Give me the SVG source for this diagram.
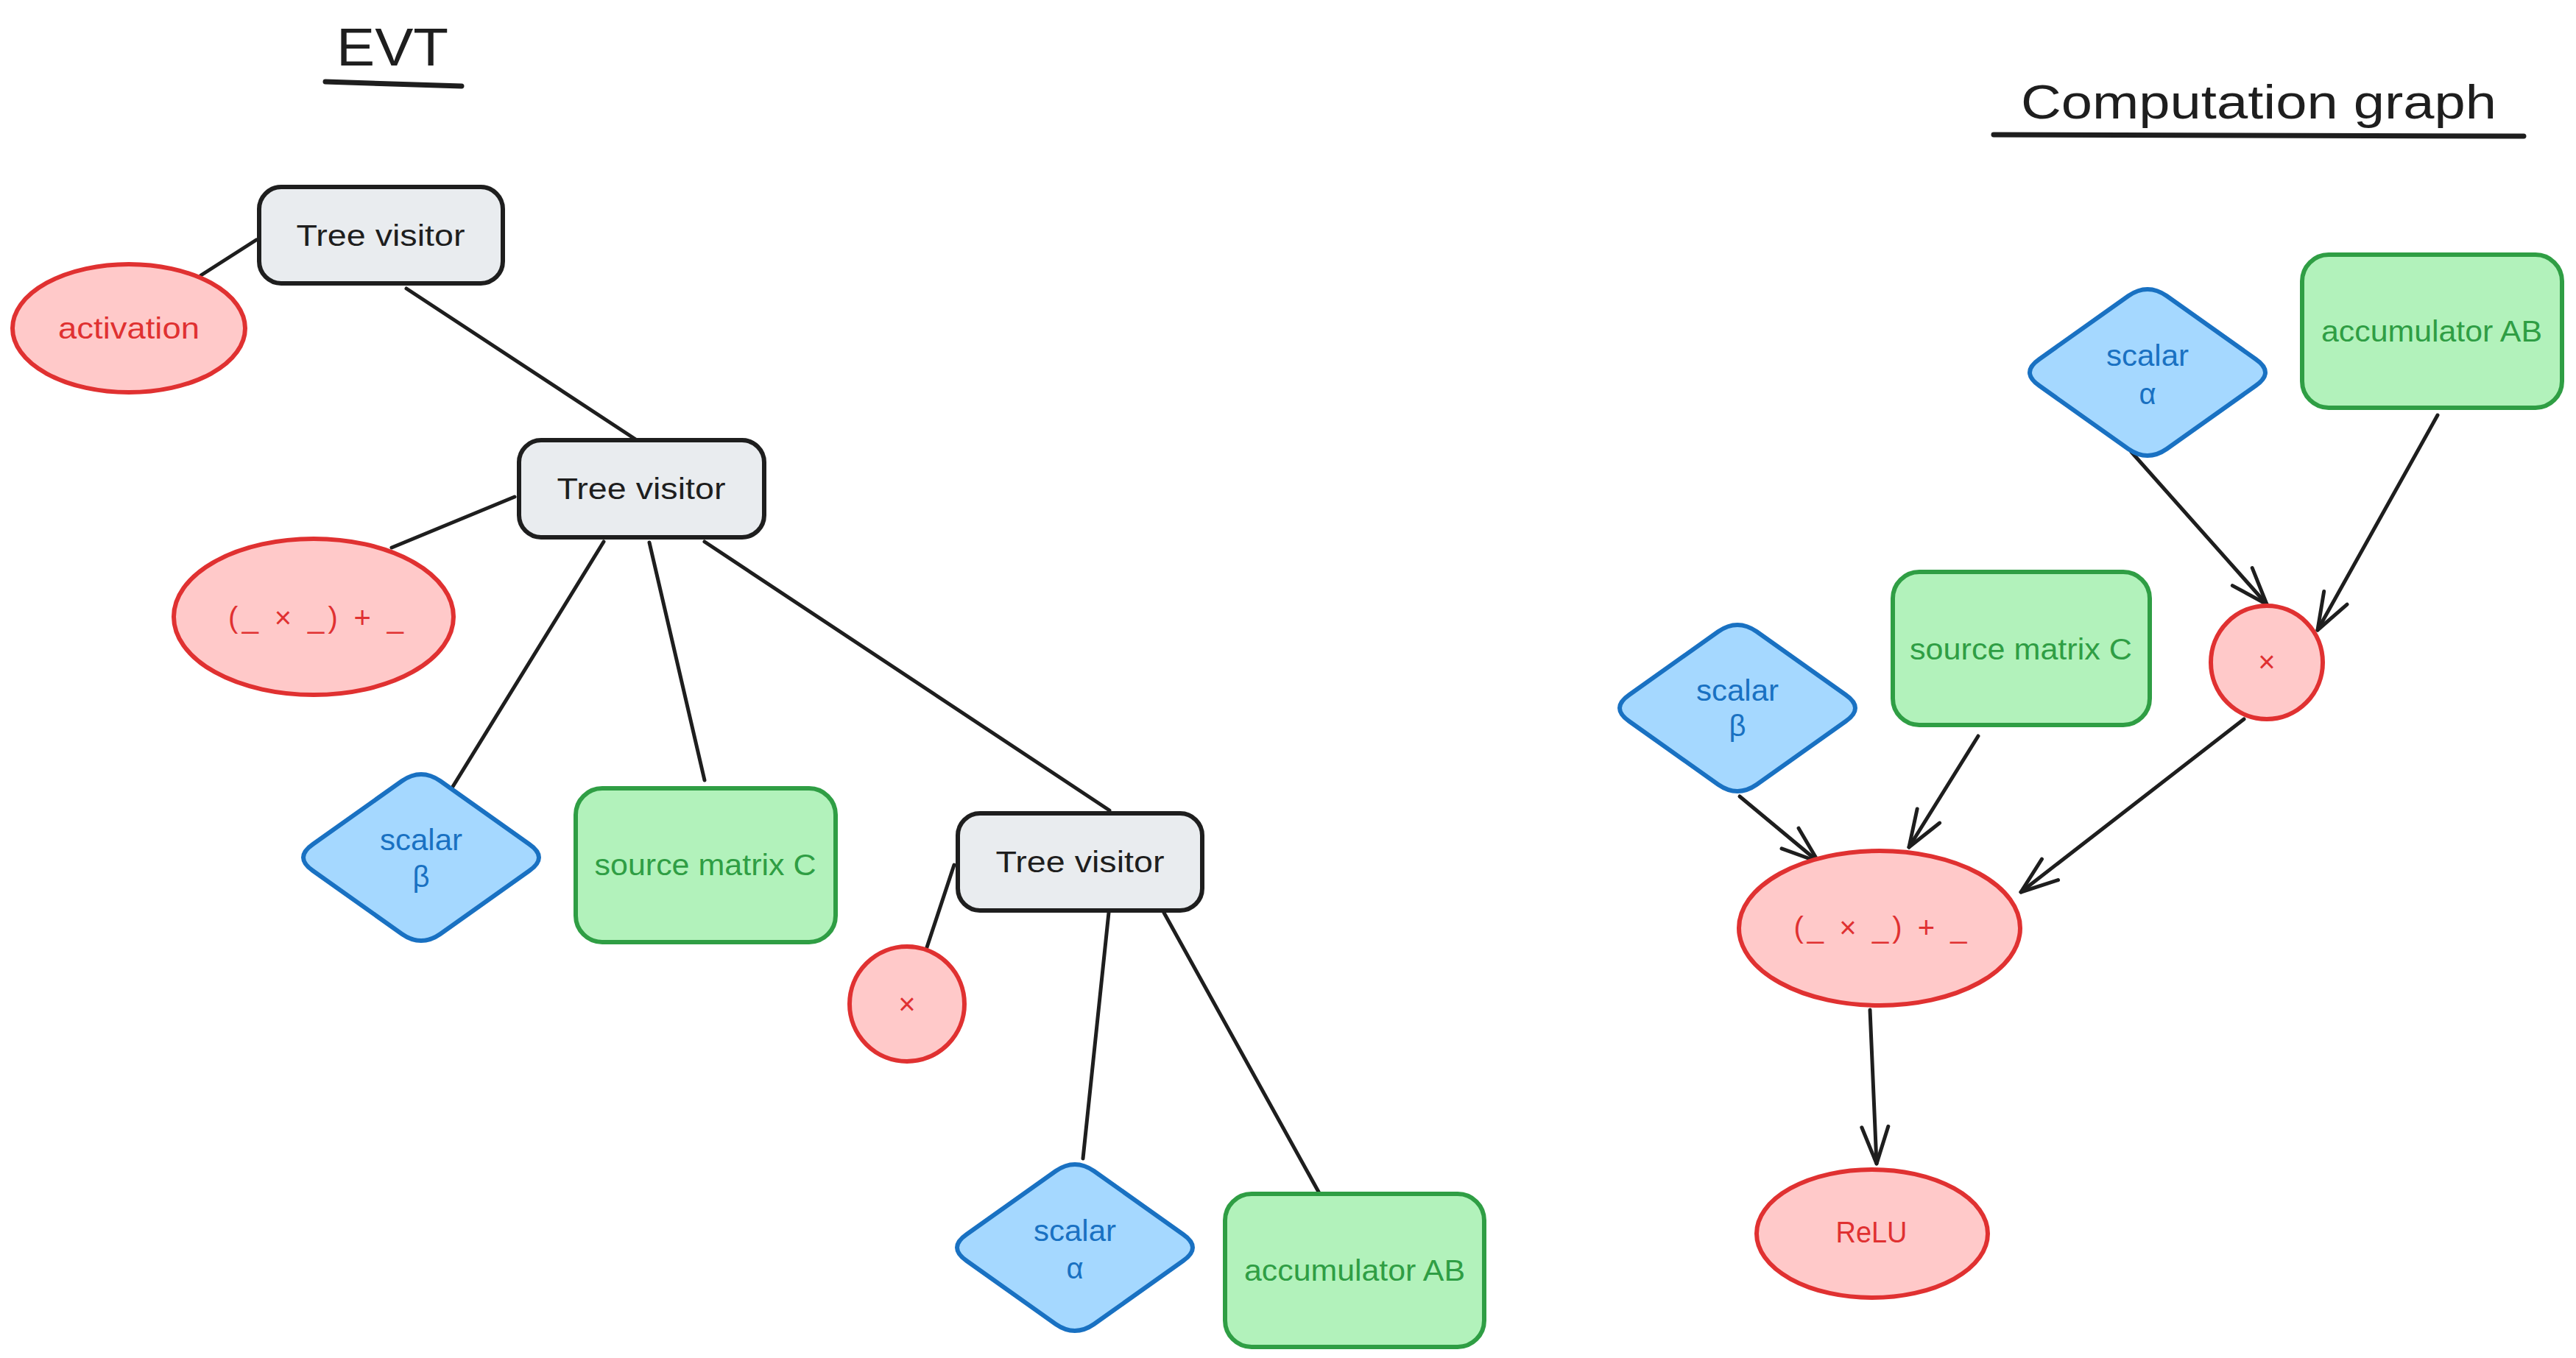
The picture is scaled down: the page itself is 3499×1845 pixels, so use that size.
<svg xmlns="http://www.w3.org/2000/svg" width="3499" height="1845" viewBox="0 0 3499 1845">
<style>
  text { font-family: "Liberation Sans", Arial, sans-serif; text-anchor: middle; dominant-baseline: central; }
  .lbl { font-size: 40px; }
  .title { font-size: 72px; fill: #1e1e1e; dominant-baseline: alphabetic; }
  .tv rect { fill: #e9ecef; stroke: #1e1e1e; stroke-width: 6; }
  .tv text { fill: #1e1e1e; }
  .red ellipse { fill: #ffc9c9; stroke: #e03131; stroke-width: 6; }
  .red text { fill: #e03131; }
  .blue use { fill: #a5d8ff; stroke: #1971c2; stroke-width: 6; stroke-linejoin: round; }
  .blue text { fill: #1971c2; }
  .green rect { fill: #b2f2bb; stroke: #2f9e44; stroke-width: 6; }
  .green text { fill: #2f9e44; }
  #connectors line { stroke: #1e1e1e; stroke-width: 5; stroke-linecap: round; fill: none; }
  #connectors .arrow { marker-end: url(#arr); }
  .uline { stroke: #1e1e1e; stroke-width: 7; stroke-linecap: round; }
</style>
<defs>
  <path id="dia" d="M -26,-104 Q 0,-122 26,-104 L 147,-18 Q 173,0 147,18 L 26,104 Q 0,122 -26,104 L -147,18 Q -173,0 -147,-18 Z"/>
  <marker id="arr" markerUnits="userSpaceOnUse" markerWidth="60" markerHeight="50" viewBox="0 0 60 50" refX="54" refY="25" orient="auto">
    <path d="M4,7 L54,25 L4,43" fill="none" stroke="#1e1e1e" stroke-width="5" stroke-linecap="round" stroke-linejoin="round"/>
  </marker>
</defs>
<rect x="0" y="0" width="3499" height="1845" fill="#ffffff"/>

<g id="title-evt">
  <text class="title" x="533" y="89" textLength="152" lengthAdjust="spacingAndGlyphs">EVT</text>
  <line class="uline" x1="442" y1="111" x2="627" y2="117"/>
</g>
<g id="title-cg">
  <text class="title" x="3068" y="161" style="font-size:64px" textLength="646" lengthAdjust="spacingAndGlyphs">Computation graph</text>
  <line class="uline" x1="2708" y1="183" x2="3428" y2="185"/>
</g>

<g id="connectors">
  <line x1="273" y1="374" x2="348" y2="326"/>
  <line x1="552" y1="392" x2="865" y2="598"/>
  <line x1="532" y1="744" x2="699" y2="675"/>
  <line x1="820" y1="736" x2="613" y2="1072"/>
  <line x1="882" y1="737" x2="957" y2="1060"/>
  <line x1="957" y1="736" x2="1507" y2="1101"/>
  <line x1="1296" y1="1175" x2="1258" y2="1290"/>
  <line x1="1506" y1="1240" x2="1471" y2="1574"/>
  <line x1="1581" y1="1240" x2="1792" y2="1621"/>
  <line class="arrow" x1="2895" y1="614" x2="3079" y2="821"/>
  <line class="arrow" x1="3311" y1="564" x2="3148" y2="856"/>
  <line class="arrow" x1="2363" y1="1082" x2="2470" y2="1171"/>
  <line class="arrow" x1="2687" y1="1000" x2="2593" y2="1151"/>
  <line class="arrow" x1="3048" y1="977" x2="2745" y2="1212"/>
  <line class="arrow" x1="2540" y1="1372" x2="2549" y2="1581"/>
</g>

<!-- EVT side -->
<g id="tv1" class="tv">
  <rect x="352" y="254" width="331" height="131" rx="30"/>
  <text class="lbl" x="517" y="320" textLength="229" lengthAdjust="spacingAndGlyphs">Tree visitor</text>
</g>
<g id="activation" class="red">
  <ellipse cx="175" cy="446" rx="158" ry="87"/>
  <text class="lbl" x="175" y="446" textLength="192" lengthAdjust="spacingAndGlyphs">activation</text>
</g>
<g id="tv2" class="tv">
  <rect x="705" y="598" width="333" height="132" rx="30"/>
  <text class="lbl" x="871" y="664" textLength="229" lengthAdjust="spacingAndGlyphs">Tree visitor</text>
</g>
<g id="evt-muladd" class="red">
  <ellipse cx="426" cy="838" rx="190" ry="106"/>
  <text class="lbl" x="429" y="839" textLength="238" lengthAdjust="spacing">(_ × _) + _</text>
</g>
<g id="evt-beta" class="blue">
  <use href="#dia" x="572" y="1165"/>
  <text class="lbl" x="572" y="1141" textLength="112" lengthAdjust="spacingAndGlyphs">scalar</text>
  <text class="lbl" x="572" y="1191">β</text>
</g>
<g id="evt-srcC" class="green">
  <rect x="782" y="1071" width="353" height="209" rx="36"/>
  <text class="lbl" x="958" y="1175" textLength="301" lengthAdjust="spacingAndGlyphs">source matrix C</text>
</g>
<g id="tv3" class="tv">
  <rect x="1301" y="1105" width="332" height="132" rx="30"/>
  <text class="lbl" x="1467" y="1171" textLength="229" lengthAdjust="spacingAndGlyphs">Tree visitor</text>
</g>
<g id="evt-mul" class="red">
  <ellipse cx="1232" cy="1364" rx="78" ry="78"/>
  <text class="lbl" x="1232" y="1364">×</text>
</g>
<g id="evt-alpha" class="blue">
  <use href="#dia" x="1460" y="1695"/>
  <text class="lbl" x="1460" y="1672" textLength="112" lengthAdjust="spacingAndGlyphs">scalar</text>
  <text class="lbl" x="1460" y="1723">α</text>
</g>
<g id="evt-acc" class="green">
  <rect x="1664" y="1622" width="352" height="208" rx="36"/>
  <text class="lbl" x="1840" y="1726" textLength="300" lengthAdjust="spacingAndGlyphs">accumulator AB</text>
</g>

<!-- Computation graph side -->
<g id="cg-alpha" class="blue">
  <use href="#dia" x="2917" y="506"/>
  <text class="lbl" x="2917" y="483" textLength="112" lengthAdjust="spacingAndGlyphs">scalar</text>
  <text class="lbl" x="2917" y="535">α</text>
</g>
<g id="cg-acc" class="green">
  <rect x="3127" y="346" width="353" height="208" rx="36"/>
  <text class="lbl" x="3303" y="450" textLength="300" lengthAdjust="spacingAndGlyphs">accumulator AB</text>
</g>
<g id="cg-mul" class="red">
  <ellipse cx="3079" cy="900" rx="76" ry="77"/>
  <text class="lbl" x="3079" y="899">×</text>
</g>
<g id="cg-srcC" class="green">
  <rect x="2571" y="777" width="349" height="208" rx="36"/>
  <text class="lbl" x="2745" y="882" textLength="302" lengthAdjust="spacingAndGlyphs">source matrix C</text>
</g>
<g id="cg-beta" class="blue">
  <use href="#dia" x="2360" y="962"/>
  <text class="lbl" x="2360" y="938" textLength="112" lengthAdjust="spacingAndGlyphs">scalar</text>
  <text class="lbl" x="2360" y="986">β</text>
</g>
<g id="cg-muladd" class="red">
  <ellipse cx="2553" cy="1261" rx="191" ry="105"/>
  <text class="lbl" x="2554" y="1260" textLength="235" lengthAdjust="spacing">(_ × _) + _</text>
</g>
<g id="cg-relu" class="red">
  <ellipse cx="2543" cy="1676" rx="157" ry="87"/>
  <text class="lbl" x="2542" y="1674" textLength="97" lengthAdjust="spacingAndGlyphs">ReLU</text>
</g>
</svg>
